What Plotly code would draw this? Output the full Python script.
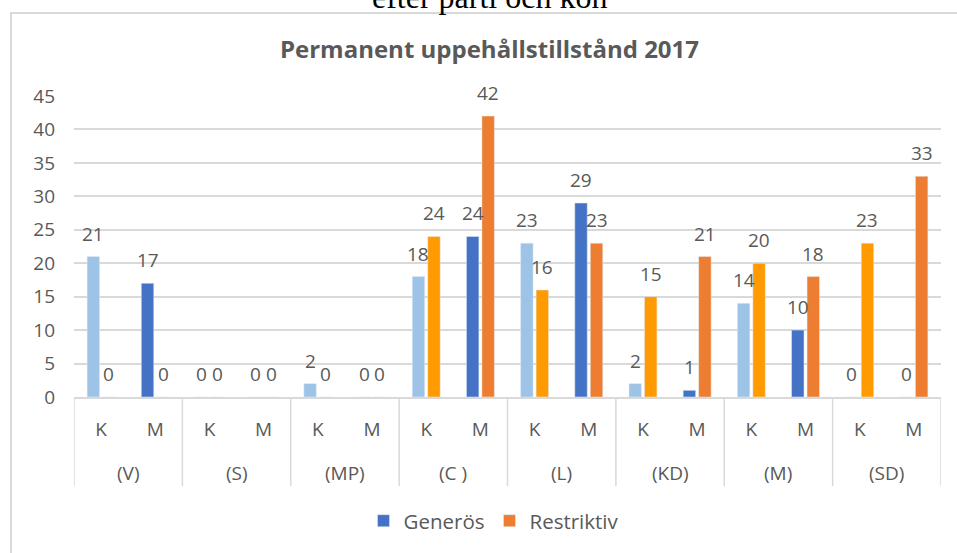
import plotly.graph_objects as go

parties = ["(V)", "(S)", "(MP)", "(C )", "(L)", "(KD)", "(M)", "(SD)"]
sexes = ["K", "M"]
generos_K = [21, 0, 2, 18, 23, 2, 14, 0]
generos_M = [17, 0, 0, 24, 29, 1, 10, 0]
restr_K = [0, 0, 0, 24, 16, 15, 20, 23]
restr_M = [0, 0, 0, 42, 23, 21, 18, 33]

col_gen = {"K": "#9DC3E6", "M": "#4472C4"}
col_res = {"K": "#FF9A00", "M": "#ED7D31"}

sex_labels, gen_vals, res_vals, gen_cols, res_cols = [], [], [], [], []
for i, p in enumerate(parties):
    for s, gv, rv in (("K", generos_K[i], restr_K[i]), ("M", generos_M[i], restr_M[i])):
        sex_labels.append(s)
        gen_vals.append(gv)
        res_vals.append(rv)
        gen_cols.append(col_gen[s])
        res_cols.append(col_res[s])
pos = list(range(len(sex_labels)))
n_sub = len(sexes)

FONT = "Open Sans"
GREY = "#595959"
LINE = "#D9D9D9"
BW = 0.23
HALF = 0.143

fig = go.Figure()
fig.add_trace(go.Bar(x=pos, y=gen_vals, marker_color=gen_cols,
                     width=BW, offset=-HALF - BW / 2, showlegend=False, name="Generös"))
fig.add_trace(go.Bar(x=pos, y=res_vals, marker_color=res_cols,
                     width=BW, offset=HALF - BW / 2, showlegend=False, name="Restriktiv"))
# legend entries
fig.add_trace(go.Bar(x=[pos[0]], y=[None], marker_color="#4472C4", name="Generös"))
fig.add_trace(go.Bar(x=[pos[0]], y=[None], marker_color="#ED7D31", name="Restriktiv"))

# data labels
for idx in pos:
    for off, v in ((-HALF, gen_vals[idx]), (HALF, res_vals[idx])):
        fig.add_annotation(x=idx + off, y=v, xref="x", yref="y", text=str(v),
                           showarrow=False, yanchor="bottom", yshift=8,
                           font=dict(family=FONT, size=19, color=GREY))

# party labels (second category level) and group dividers
for i, p in enumerate(parties):
    fig.add_annotation(x=i * n_sub + (n_sub - 1) / 2, y=0, xref="x", yref="paper", text=p,
                       showarrow=False, yanchor="middle", yshift=-76,
                       font=dict(family=FONT, size=19, color=GREY))
for i in range(len(parties) + 1):
    fig.add_shape(type="line", xref="x", yref="paper", x0=i * n_sub - 0.5, x1=i * n_sub - 0.5,
                  ysizemode="pixel", yanchor=0, y0=0, y1=-89,
                  line=dict(color=LINE, width=1.5))

# top cut-off caption and chart frame
fig.add_annotation(text="efter parti och kön", xref="paper", yref="paper",
                   x=(489.5 - 74) / 867, y=1.262, xanchor="center", yanchor="bottom", showarrow=False,
                   font=dict(family="Liberation Serif", size=32, color="black"))
fig.add_shape(type="rect", xref="paper", yref="paper", x0=-63 / 867, x1=1.2, y0=-1, y1=1.276,
              line=dict(color=LINE, width=2), fillcolor="rgba(0,0,0,0)", layer="below")

fig.update_layout(
    width=957, height=553,
    margin=dict(l=74, r=16, t=96, b=153, pad=0),
    paper_bgcolor="white", plot_bgcolor="white",
    barmode="overlay",
    font=dict(family=FONT, size=19, color=GREY),
    title=dict(text="<b>Permanent uppehållstillstånd 2017</b>", x=(489.5 - 74) / 867, xref="paper",
               xanchor="center", y=1 - 50 / 553, yanchor="middle",
               font=dict(family=FONT, size=24, color=GREY)),
    legend=dict(orientation="h", x=(494 - 74) / 867, xanchor="center", y=-0.4116, yanchor="middle",
                font=dict(family=FONT, size=20.5, color=GREY), itemwidth=30),
    xaxis=dict(range=[-0.5, len(pos) - 0.5], tickmode="array", tickvals=pos, ticktext=sex_labels,
               showline=True, linecolor=LINE, linewidth=1.5, ticks="", showgrid=False,
               zeroline=False, ticklabelstandoff=14,
               tickfont=dict(family=FONT, size=19, color=GREY)),
    yaxis=dict(range=[0, 45], dtick=5, showgrid=True, gridcolor=LINE, gridwidth=1.5,
               zeroline=False, showline=False, ticklabelstandoff=18,
               tickfont=dict(family=FONT, size=19, color=GREY)),
)

fig.write_html("out.html", config={"displayModeBar": False},
               post_script="document.body.style.margin='0px';")
